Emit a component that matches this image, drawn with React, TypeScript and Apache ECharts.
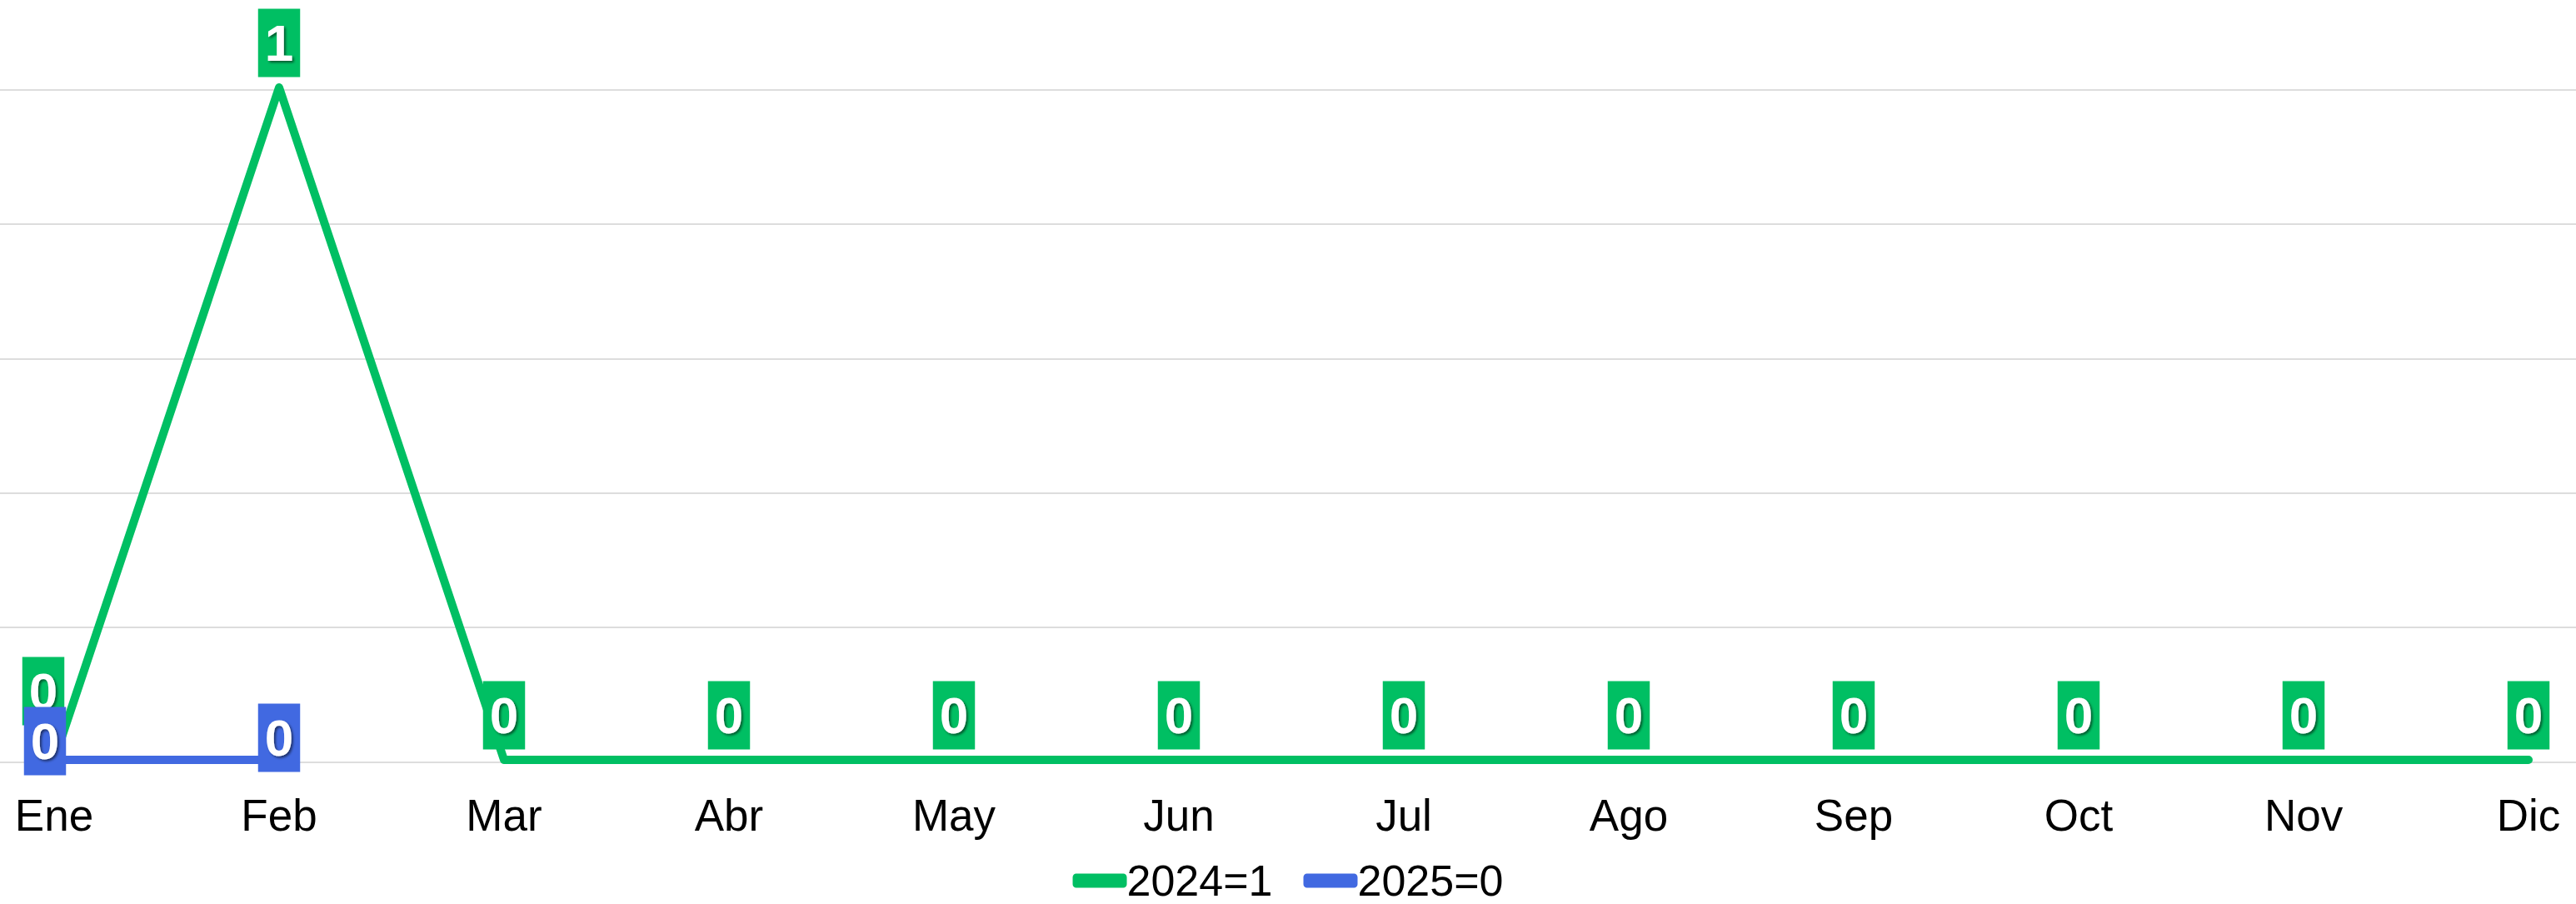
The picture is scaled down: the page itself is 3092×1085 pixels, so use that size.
import React, { useEffect, useRef } from "react";
import * as echarts from "echarts";

const months = ["Ene", "Feb", "Mar", "Abr", "May", "Jun", "Jul", "Ago", "Sep", "Oct", "Nov", "Dic"];
const values2024 = [0, 1, 0, 0, 0, 0, 0, 0, 0, 0, 0, 0];
const values2025 = [0, 0];
const seriesNames = ["2024=1", "2025=0"];
const colors = ["#00bf63", "#4169e1"];

const FONT = "'Liberation Sans', Arial, sans-serif";

export default function App() {
  const ref = useRef<HTMLDivElement>(null);
  useEffect(() => {
    document.body.style.margin = "0";
    const chart = echarts.init(ref.current!, null, { renderer: "svg" });
    const labelBase = (color: string) => ({
      show: true,
      position: "top",
      distance: 12,
      color: "#ffffff",
      fontFamily: FONT,
      fontWeight: "bold",
      fontSize: 62,
      lineHeight: 62,
      padding: [10, 8, 10, 8],
      backgroundColor: color,
      textShadowColor: "rgba(0,0,0,0.55)",
      textShadowBlur: 3,
      textShadowOffsetX: 2,
      textShadowOffsetY: 2,
      formatter: (p: any) => String(p.value),
    });
    const labelOffsets2024: Record<number, number[]> = { 0: [-13, -29] };
    const labelOffsets2025: Record<number, number[]> = { 0: [-11, 31], 1: [0, 27] };
    const mk = (vals: number[], offs: Record<number, number[]>) =>
      vals.map((v, i) => (offs[i] ? { value: v, label: { offset: offs[i] } } : { value: v }));

    chart.setOption({
      animation: false,
      backgroundColor: "#ffffff",
      grid: [
        { left: 0, right: 0, top: 107.5, bottom: 170.5 },
        { left: 65, right: 57, top: 105, bottom: 173 },
      ],
      xAxis: [
        { type: "category", gridIndex: 0, data: months, show: false },
        {
          type: "category",
          gridIndex: 1,
          data: months,
          boundaryGap: false,
          axisLine: { show: false },
          axisTick: { show: false },
          splitLine: { show: false },
          axisLabel: { color: "#000000", fontFamily: FONT, fontSize: 53, margin: 40 },
        },
      ],
      yAxis: [
        {
          type: "value",
          gridIndex: 0,
          min: 0,
          max: 1,
          interval: 0.2,
          axisLine: { show: false },
          axisTick: { show: false },
          axisLabel: { show: false },
          splitLine: { lineStyle: { color: "#dddddd", width: 2 } },
        },
        {
          type: "value",
          gridIndex: 1,
          min: 0,
          max: 1,
          interval: 0.2,
          show: false,
          splitLine: { show: false },
        },
      ],
      legend: {
        left: "center",
        top: 1026,
        itemWidth: 65,
        itemHeight: 17,
        itemGap: 37,
        icon: "roundRect",
        textStyle: { color: "#000000", fontFamily: FONT, fontSize: 52, lineHeight: 52, padding: [0, 0, 0, -5] },
        data: seriesNames,
      },
      series: [
        {
          name: seriesNames[0],
          type: "line",
          xAxisIndex: 1,
          yAxisIndex: 1,
          data: mk(values2024, labelOffsets2024),
          color: colors[0],
          symbol: "circle",
          symbolSize: 1,
          lineStyle: { width: 10, color: colors[0], cap: "round", join: "round" },
          itemStyle: { color: colors[0] },
          label: labelBase(colors[0]),
          z: 2,
        },
        {
          name: seriesNames[1],
          type: "line",
          xAxisIndex: 1,
          yAxisIndex: 1,
          data: mk(values2025, labelOffsets2025),
          color: colors[1],
          symbol: "circle",
          symbolSize: 1,
          lineStyle: { width: 10, color: colors[1], cap: "round", join: "round" },
          itemStyle: { color: colors[1] },
          label: labelBase(colors[1]),
          z: 3,
        },
      ],
    });
    return () => chart.dispose();
  }, []);
  return <div ref={ref} style={{ position: "absolute", left: 0, top: 0, width: 3092, height: 1085 }} />;
}
